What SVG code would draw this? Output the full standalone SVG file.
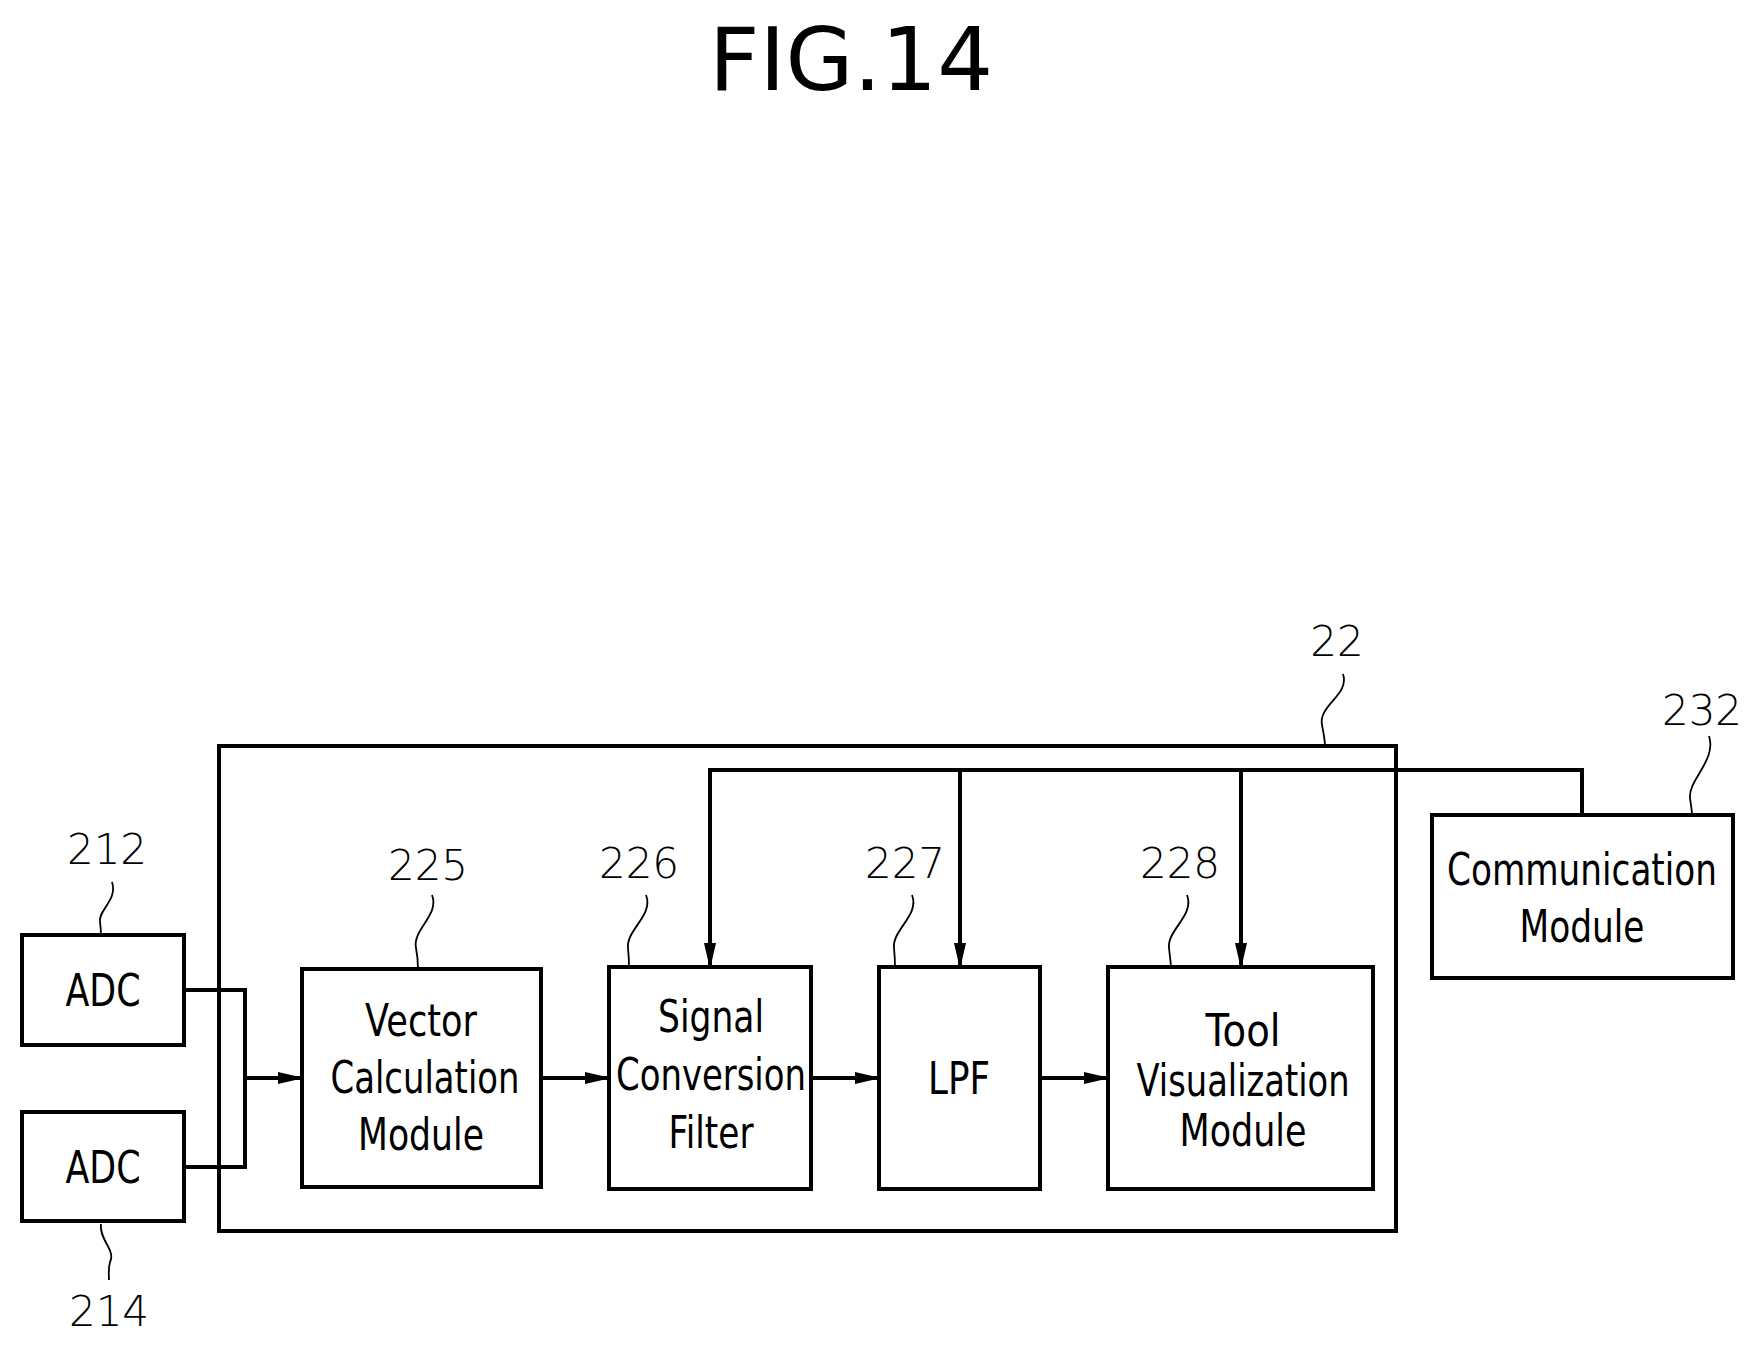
<svg xmlns="http://www.w3.org/2000/svg" width="1758" height="1346" viewBox="0 0 1758 1346">
<defs>
<marker id="a" markerWidth="26" markerHeight="14" refX="24" refY="7" orient="auto" markerUnits="userSpaceOnUse"><path d="M0,1 L26,7 L0,13 Z" fill="#000"/></marker>
<style>
.b{fill:#fff;stroke:#000;stroke-width:4}
.t{font-family:"DejaVu Sans","Liberation Sans",sans-serif;font-size:44px;text-anchor:middle;fill:#000}
.n{font-family:"DejaVu Sans","Liberation Sans",sans-serif;font-size:42px;text-anchor:middle;fill:#000;font-weight:300}
.c{fill:none;stroke:#000;stroke-width:4}
.l{fill:none;stroke:#000;stroke-width:1.8}
</style>
</defs>
<rect width="1758" height="1346" fill="#fff"/>
<text x="851" y="90" class="t" style="font-size:88px" textLength="284" lengthAdjust="spacingAndGlyphs">FIG.14</text>
<g id="n22"><rect x="219" y="746" width="1177" height="485" fill="none" stroke="#000" stroke-width="4"/><text class="n" x="1337" y="656">22</text><path class="l" d="M1343,674 C1350,695 1318,705 1322,725 C1324,735 1325,740 1325,746"/></g>
<g id="n212"><rect class="b" x="22" y="935" width="162" height="110"/><text class="t" x="103" y="1006" textLength="75" lengthAdjust="spacingAndGlyphs">ADC</text><text class="n" x="107" y="864">212</text><path class="l" d="M112,882 C118,900 98,910 100,922 C101,930 101,933 101,935"/></g>
<g id="n214"><rect class="b" x="22" y="1112" width="162" height="109"/><text class="t" x="103" y="1183" textLength="75" lengthAdjust="spacingAndGlyphs">ADC</text><text class="n" x="109" y="1326">214</text><path class="l" d="M101,1224 C99,1240 116,1250 110,1262 C108,1270 109,1275 109,1280"/></g>
<g id="n225"><rect class="b" x="302" y="969" width="239" height="218"/><text class="t" x="421" y="1036" textLength="112" lengthAdjust="spacingAndGlyphs">Vector</text><text class="t" x="425" y="1093" textLength="189" lengthAdjust="spacingAndGlyphs">Calculation</text><text class="t" x="421" y="1150" textLength="126" lengthAdjust="spacingAndGlyphs">Module</text><text class="n" x="428" y="880">225</text><path class="l" d="M432,895 C440,915 412,930 416,948 C418,958 418,964 418,969"/></g>
<g id="n226"><rect class="b" x="609" y="967" width="202" height="222"/><text class="t" x="711" y="1032" textLength="106" lengthAdjust="spacingAndGlyphs">Signal</text><text class="t" x="711" y="1090" textLength="190" lengthAdjust="spacingAndGlyphs">Conversion</text><text class="t" x="711" y="1148" textLength="85" lengthAdjust="spacingAndGlyphs">Filter</text><text class="n" x="639" y="878">226</text><path class="l" d="M646,895 C654,915 626,930 628,948 C629,958 629,964 629,967"/></g>
<g id="n227"><rect class="b" x="879" y="967" width="161" height="222"/><text class="t" x="959" y="1094" textLength="62" lengthAdjust="spacingAndGlyphs">LPF</text><text class="n" x="905" y="878">227</text><path class="l" d="M912,895 C920,915 892,930 894,948 C895,958 895,964 895,967"/></g>
<g id="n228"><rect class="b" x="1108" y="967" width="265" height="222"/><text class="t" x="1243" y="1046" textLength="75" lengthAdjust="spacingAndGlyphs">Tool</text><text class="t" x="1243" y="1096" textLength="213" lengthAdjust="spacingAndGlyphs">Visualization</text><text class="t" x="1243" y="1146" textLength="127" lengthAdjust="spacingAndGlyphs">Module</text><text class="n" x="1180" y="878">228</text><path class="l" d="M1187,895 C1195,915 1167,930 1169,948 C1170,958 1171,964 1171,967"/></g>
<g id="n232"><rect class="b" x="1432" y="815" width="301" height="163"/><text class="t" x="1582" y="885" textLength="270" lengthAdjust="spacingAndGlyphs">Communication</text><text class="t" x="1582" y="942" textLength="125" lengthAdjust="spacingAndGlyphs">Module</text><text class="n" x="1702" y="725">232</text><path class="l" d="M1709,736 C1717,760 1688,780 1690,798 C1691,806 1692,810 1692,815"/></g>
<g id="connectors">
<path class="c" d="M184,990 H245 V1167 H184"/>
<path class="c" d="M245,1078 H302" marker-end="url(#a)"/>
<path class="c" d="M541,1078 H609" marker-end="url(#a)"/>
<path class="c" d="M811,1078 H879" marker-end="url(#a)"/>
<path class="c" d="M1040,1078 H1108" marker-end="url(#a)"/>
<path class="c" d="M1582,815 V770 H710 V967" marker-end="url(#a)"/>
<path class="c" d="M960,770 V967" marker-end="url(#a)"/>
<path class="c" d="M1241,770 V967" marker-end="url(#a)"/>
</g>
</svg>
